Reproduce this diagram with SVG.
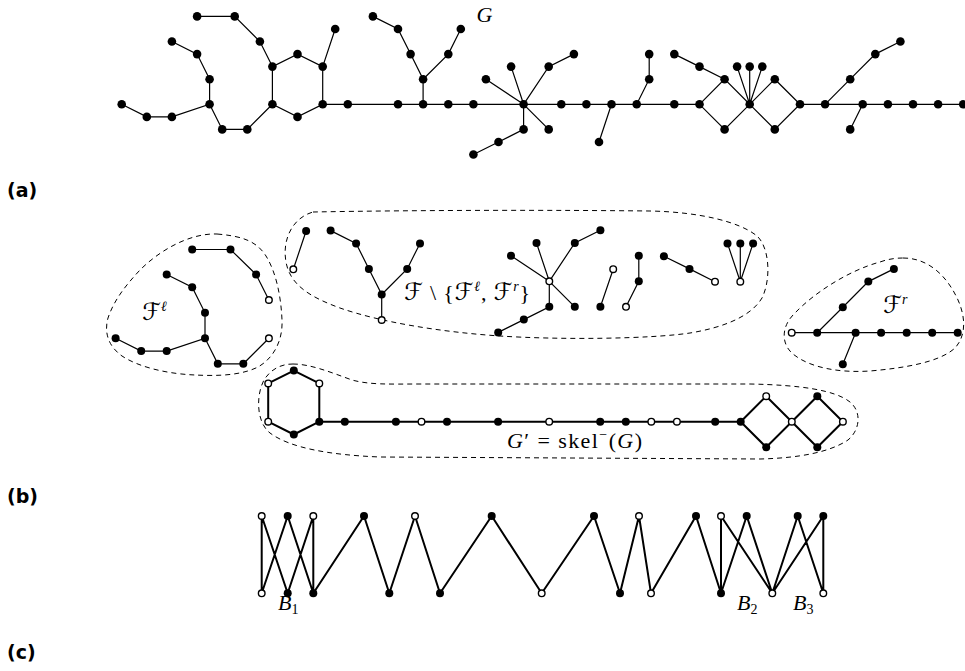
<svg xmlns="http://www.w3.org/2000/svg" width="965" height="671" viewBox="0 0 965 671">
<style>
.e{stroke:#000;stroke-width:1.2;fill:none;stroke-linecap:round}
.t{stroke:#000;stroke-width:2;fill:none;stroke-linejoin:round}
.f{fill:#000}
.o{fill:#fff;stroke:#000;stroke-width:1.4}
.d{fill:none;stroke:#000;stroke-width:1;stroke-dasharray:5 4}
.m{font-family:"Liberation Serif",serif;font-size:22px}
.c{font-family:"DejaVu Serif","DejaVu Sans",serif;font-style:normal;font-size:24px}
.lab{font-family:"DejaVu Sans",sans-serif;font-weight:bold;font-size:19px}
</style>
<rect width="965" height="671" fill="#fff"/>

<g id="connectors">
<path id="edges-a" class="e" d="M121.7,104.3 L146.8,116.9 L171.9,116.9 L209.6,104.3 L222.2,129.4 L247.3,129.4 L272.4,104.3 L297.5,116.9 L322.7,104.3 L322.7,66.6 L297.5,54.1 L272.4,66.6 L272.4,104.3
M209.6,104.3 L209.6,79.2 L197.1,54.1 L171.9,41.5
M272.4,66.6 L259.9,41.5 L234.7,16.4 L197.1,16.4
M322.7,66.6 L335.2,29
M322.7,104.3 L699.5,104.3
M699.5,104.3 L724.6,79.2 L749.7,104.3 L724.6,129.4 Z
M749.7,104.3 L774.8,79.2 L800,104.3 L774.8,129.4 Z
M800,104.3 L963.2,104.3
M423.1,104.3 L423.1,79.2 L410.6,54.1 L398,29 L372.9,16.4
M423.1,79.2 L448.3,54.1 L460.8,29
M523.6,104.3 L485.9,79.2 M523.6,104.3 L511.1,66.6 M523.6,104.3 L548.7,66.6 L573.9,54.1 M523.6,104.3 L548.7,129.4 M523.6,104.3 L523.6,129.4 L498.5,142 L473.4,154.5
M611.5,104.3 L599,142
M636.7,104.3 L649.2,79.2 L649.2,54.1
M724.6,79.2 L699.5,66.6 L674.3,54.1
M749.7,104.3 L737.1,66.6 M749.7,104.3 L749.7,66.6 M749.7,104.3 L762.3,66.6
M825.1,104.3 L850.2,79.2 L875.3,54.1 L900.4,41.5
M862.7,104.3 L850.2,129.4"/>
<path id="edges-b-forest" class="e" d="M115.6,338.3 L141.2,351.1 L166.7,351.1 L205,338.3 L205,312.8 L192.2,287.2 L166.7,274.5
M205,338.3 L217.8,363.8 L243.3,363.8 L268.9,338.3
M268.9,300 L256.1,274.5 L230.5,249.5 L192.2,249.5
M293.3,269.3 L306.1,231
M381.7,320 L381.7,294.5 L368.9,268.9 L356.1,243.4 L330.6,230.6 M381.7,294.5 L407.2,268.9 L420,243.4
M549.3,281.3 L511,255.8 M549.3,281.3 L536.5,243 M549.3,281.3 L574.8,243 L600.4,230.2 M549.3,281.3 L574.8,306.8 M549.3,281.3 L549.3,306.8 L523.8,319.6 L498.2,332.4
M613.2,269.2 L600.4,306.8
M626,306.8 L638.8,281.3 L638.8,255.7
M715,281.7 L689.5,268.9 L663.9,256.2
M740.3,281.7 L727.5,243.4 M740.3,281.7 L740.3,243.4 M740.3,281.7 L753.1,243.4
M791.7,332.7 L957.7,332.7
M817.2,332.7 L842.8,307.2 L868.3,281.6 L893.9,268.9
M855.6,332.7 L842.8,364.3"/>
<path id="edges-b-skel" class="t" d="M293.8,370.6 L319.3,383.4 L319.3,421.7 L293.8,434.5 L268.2,421.7 L268.2,383.4 Z
M319.3,421.7 L740.7,421.7
M740.7,421.7 L766.2,396.2 L791.8,421.7 L766.2,447.2 Z
M791.8,421.7 L817.3,396.2 L842.9,421.7 L817.3,447.2 Z"/>
<path id="edges-c" class="t" d="M261.7,516 L261.7,593.3 M261.7,516 L287.7,593.3 M287.7,516 L261.7,593.3 M287.7,516 L313.3,593.3 M313.3,516 L287.7,593.3 M313.3,516 L313.3,593.3
M313.3,593.3 L364,516 L389.3,593.3 L415,516 L440,593.3 L491.7,516 L541.7,593.3 L594,516 L620,593.3 L639,516 L651,593.3 L696,516 L721,593.3
M721,593.3 L721,516 M721,593.3 L746.7,516 M721,516 L772.3,593.3 M746.7,516 L772.3,593.3 M772.3,593.3 L797.7,516 M772.3,593.3 L823.3,516 M797.7,516 L823.3,593.3 M823.3,516 L823.3,593.3"/>
</g>

<g id="regions">
<path id="blob-Fl" class="d" d="M217,234 C240,236 256,240 266,256 C276,272 281,296 282,320 C283,340 274,358 258,367 C240,376 215,376 195,375 C170,374 140,368 122,356 C108,346 104,332 108,318 C114,300 126,285 140,270 C160,250 190,233 217,234 Z"/>
<path id="blob-mid" class="d" d="M313,212 C420,210 560,210 650,211 C700,212 740,222 757,236 C770,248 771,280 762,298 C750,318 720,328 690,333 C650,339 560,340 500,336 C440,332 380,322 340,308 C310,297 290,285 286,262 C282,240 292,218 313,212 Z"/>
<path id="blob-Fr" class="d" d="M903,258 C930,258 948,278 958,300 C966,318 966,336 955,348 C940,362 905,368 870,371 C840,373 810,368 793,354 C780,343 782,325 795,313 C815,292 850,270 880,262 C888,259 896,258 903,258 Z"/>
<path id="blob-skel" class="d" d="M293,364 C310,364 330,372 352,380 C370,385 390,384 420,384 L750,384 C800,385 835,390 850,402 C862,412 860,430 848,440 C830,452 800,458 760,459 L380,457 C330,455 290,448 270,433 C256,422 256,395 264,380 C271,369 281,364 293,364 Z"/>
</g>

<g id="nodes-a" class="f">
<g id="a1"><circle cx="121.7" cy="104.3" r="4.3"/></g>
<g id="a2"><circle cx="146.8" cy="116.9" r="4.3"/></g>
<g id="a3"><circle cx="171.9" cy="116.9" r="4.3"/></g>
<g id="a4"><circle cx="209.6" cy="104.3" r="4.3"/></g>
<g id="a5"><circle cx="209.6" cy="79.2" r="4.3"/></g>
<g id="a6"><circle cx="197.1" cy="54.1" r="4.3"/></g>
<g id="a7"><circle cx="171.9" cy="41.5" r="4.3"/></g>
<g id="a8"><circle cx="222.2" cy="129.4" r="4.3"/></g>
<g id="a9"><circle cx="247.3" cy="129.4" r="4.3"/></g>
<g id="a10"><circle cx="272.4" cy="104.3" r="4.3"/></g>
<g id="a11"><circle cx="297.5" cy="116.9" r="4.3"/></g>
<g id="a12"><circle cx="322.7" cy="104.3" r="4.3"/></g>
<g id="a13"><circle cx="322.7" cy="66.6" r="4.3"/></g>
<g id="a14"><circle cx="297.5" cy="54.1" r="4.3"/></g>
<g id="a15"><circle cx="272.4" cy="66.6" r="4.3"/></g>
<g id="a16"><circle cx="259.9" cy="41.5" r="4.3"/></g>
<g id="a17"><circle cx="234.7" cy="16.4" r="4.3"/></g>
<g id="a18"><circle cx="197.1" cy="16.4" r="4.3"/></g>
<g id="a19"><circle cx="335.2" cy="29" r="4.3"/></g>
<g id="a20"><circle cx="347.8" cy="104.3" r="4.3"/></g>
<g id="a21"><circle cx="398" cy="104.3" r="4.3"/></g>
<g id="a22"><circle cx="423.1" cy="104.3" r="4.3"/></g>
<g id="a23"><circle cx="448.3" cy="104.3" r="4.3"/></g>
<g id="a24"><circle cx="473.4" cy="104.3" r="4.3"/></g>
<g id="a25"><circle cx="523.6" cy="104.3" r="4.3"/></g>
<g id="a26"><circle cx="561.3" cy="104.3" r="4.3"/></g>
<g id="a27"><circle cx="586.4" cy="104.3" r="4.3"/></g>
<g id="a28"><circle cx="611.5" cy="104.3" r="4.3"/></g>
<g id="a29"><circle cx="636.7" cy="104.3" r="4.3"/></g>
<g id="a30"><circle cx="674.3" cy="104.3" r="4.3"/></g>
<g id="a31"><circle cx="699.5" cy="104.3" r="4.3"/></g>
<g id="a32"><circle cx="423.1" cy="79.2" r="4.3"/></g>
<g id="a33"><circle cx="410.6" cy="54.1" r="4.3"/></g>
<g id="a34"><circle cx="398" cy="29" r="4.3"/></g>
<g id="a35"><circle cx="372.9" cy="16.4" r="4.3"/></g>
<g id="a36"><circle cx="448.3" cy="54.1" r="4.3"/></g>
<g id="a37"><circle cx="460.8" cy="29" r="4.3"/></g>
<g id="a38"><circle cx="485.9" cy="79.2" r="4.3"/></g>
<g id="a39"><circle cx="511.1" cy="66.6" r="4.3"/></g>
<g id="a40"><circle cx="548.7" cy="66.6" r="4.3"/></g>
<g id="a41"><circle cx="573.9" cy="54.1" r="4.3"/></g>
<g id="a42"><circle cx="548.7" cy="129.4" r="4.3"/></g>
<g id="a43"><circle cx="523.6" cy="129.4" r="4.3"/></g>
<g id="a44"><circle cx="498.5" cy="142" r="4.3"/></g>
<g id="a45"><circle cx="473.4" cy="154.5" r="4.3"/></g>
<g id="a46"><circle cx="599" cy="142" r="4.3"/></g>
<g id="a47"><circle cx="649.2" cy="79.2" r="4.3"/></g>
<g id="a48"><circle cx="649.2" cy="54.1" r="4.3"/></g>
<g id="a49"><circle cx="724.6" cy="79.2" r="4.3"/></g>
<g id="a50"><circle cx="724.6" cy="129.4" r="4.3"/></g>
<g id="a51"><circle cx="749.7" cy="104.3" r="4.3"/></g>
<g id="a52"><circle cx="774.8" cy="79.2" r="4.3"/></g>
<g id="a53"><circle cx="774.8" cy="129.4" r="4.3"/></g>
<g id="a54"><circle cx="800" cy="104.3" r="4.3"/></g>
<g id="a55"><circle cx="699.5" cy="66.6" r="4.3"/></g>
<g id="a56"><circle cx="674.3" cy="54.1" r="4.3"/></g>
<g id="a57"><circle cx="737.1" cy="66.6" r="4.3"/></g>
<g id="a58"><circle cx="749.7" cy="66.6" r="4.3"/></g>
<g id="a59"><circle cx="762.3" cy="66.6" r="4.3"/></g>
<g id="a60"><circle cx="825.1" cy="104.3" r="4.3"/></g>
<g id="a61"><circle cx="862.7" cy="104.3" r="4.3"/></g>
<g id="a62"><circle cx="887.9" cy="104.3" r="4.3"/></g>
<g id="a63"><circle cx="913" cy="104.3" r="4.3"/></g>
<g id="a64"><circle cx="938.1" cy="104.3" r="4.3"/></g>
<g id="a65"><circle cx="963.2" cy="104.3" r="4.3"/></g>
<g id="a66"><circle cx="850.2" cy="79.2" r="4.3"/></g>
<g id="a67"><circle cx="875.3" cy="54.1" r="4.3"/></g>
<g id="a68"><circle cx="900.4" cy="41.5" r="4.3"/></g>
<g id="a69"><circle cx="850.2" cy="129.4" r="4.3"/></g>
</g>

<g id="nodes-b-forest">
<g id="fl1"><circle class="f" cx="115.6" cy="338.3" r="4"/></g>
<g id="fl2"><circle class="f" cx="141.2" cy="351.1" r="4"/></g>
<g id="fl3"><circle class="f" cx="166.7" cy="351.1" r="4"/></g>
<g id="fl4"><circle class="f" cx="205" cy="338.3" r="4"/></g>
<g id="fl5"><circle class="f" cx="205" cy="312.8" r="4"/></g>
<g id="fl6"><circle class="f" cx="192.2" cy="287.2" r="4"/></g>
<g id="fl7"><circle class="f" cx="166.7" cy="274.5" r="4"/></g>
<g id="fl8"><circle class="f" cx="217.8" cy="363.8" r="4"/></g>
<g id="fl9"><circle class="f" cx="243.3" cy="363.8" r="4"/></g>
<g id="fl10"><circle class="o" cx="268.9" cy="338.3" r="3.3"/></g>
<g id="fl11"><circle class="o" cx="268.9" cy="300" r="3.3"/></g>
<g id="fl12"><circle class="f" cx="256.1" cy="274.5" r="4"/></g>
<g id="fl13"><circle class="f" cx="230.5" cy="249.5" r="4"/></g>
<g id="fl14"><circle class="f" cx="192.2" cy="249.5" r="4"/></g>
<g id="fm1"><circle class="o" cx="293.3" cy="269.3" r="3.3"/></g>
<g id="fm2"><circle class="f" cx="306.1" cy="231" r="4"/></g>
<g id="fm3"><circle class="o" cx="381.7" cy="320" r="3.3"/></g>
<g id="fm4"><circle class="f" cx="381.7" cy="294.5" r="4"/></g>
<g id="fm5"><circle class="f" cx="368.9" cy="268.9" r="4"/></g>
<g id="fm6"><circle class="f" cx="356.1" cy="243.4" r="4"/></g>
<g id="fm7"><circle class="f" cx="330.6" cy="230.6" r="4"/></g>
<g id="fm8"><circle class="f" cx="407.2" cy="268.9" r="4"/></g>
<g id="fm9"><circle class="f" cx="420" cy="243.4" r="4"/></g>
<g id="fm10"><circle class="o" cx="549.3" cy="281.3" r="3.3"/></g>
<g id="fm11"><circle class="f" cx="511" cy="255.8" r="4"/></g>
<g id="fm12"><circle class="f" cx="536.5" cy="243" r="4"/></g>
<g id="fm13"><circle class="f" cx="574.8" cy="243" r="4"/></g>
<g id="fm14"><circle class="f" cx="600.4" cy="230.2" r="4"/></g>
<g id="fm15"><circle class="f" cx="574.8" cy="306.8" r="4"/></g>
<g id="fm16"><circle class="f" cx="549.3" cy="306.8" r="4"/></g>
<g id="fm17"><circle class="f" cx="523.8" cy="319.6" r="4"/></g>
<g id="fm18"><circle class="f" cx="498.2" cy="332.4" r="4"/></g>
<g id="fm19"><circle class="o" cx="613.2" cy="269.2" r="3.3"/></g>
<g id="fm20"><circle class="f" cx="600.4" cy="306.8" r="4"/></g>
<g id="fm21"><circle class="o" cx="626" cy="306.8" r="3.3"/></g>
<g id="fm22"><circle class="f" cx="638.8" cy="281.3" r="4"/></g>
<g id="fm23"><circle class="f" cx="638.8" cy="255.7" r="4"/></g>
<g id="fm24"><circle class="o" cx="715" cy="281.7" r="3.3"/></g>
<g id="fm25"><circle class="f" cx="689.5" cy="268.9" r="4"/></g>
<g id="fm26"><circle class="f" cx="663.9" cy="256.2" r="4"/></g>
<g id="fm27"><circle class="o" cx="740.3" cy="281.7" r="3.3"/></g>
<g id="fm28"><circle class="f" cx="727.5" cy="243.4" r="4"/></g>
<g id="fm29"><circle class="f" cx="740.3" cy="243.4" r="4"/></g>
<g id="fm30"><circle class="f" cx="753.1" cy="243.4" r="4"/></g>
<g id="fr1"><circle class="o" cx="791.7" cy="332.7" r="3.3"/></g>
<g id="fr2"><circle class="f" cx="817.2" cy="332.7" r="4"/></g>
<g id="fr3"><circle class="f" cx="855.6" cy="332.7" r="4"/></g>
<g id="fr4"><circle class="f" cx="881.1" cy="332.7" r="4"/></g>
<g id="fr5"><circle class="f" cx="906.7" cy="332.7" r="4"/></g>
<g id="fr6"><circle class="f" cx="932.2" cy="332.7" r="4"/></g>
<g id="fr7"><circle class="f" cx="957.7" cy="332.7" r="4"/></g>
<g id="fr8"><circle class="f" cx="842.8" cy="307.2" r="4"/></g>
<g id="fr9"><circle class="f" cx="868.3" cy="281.6" r="4"/></g>
<g id="fr10"><circle class="f" cx="893.9" cy="268.9" r="4"/></g>
<g id="fr11"><circle class="f" cx="842.8" cy="364.3" r="4"/></g>
</g>

<g id="nodes-b-skel">
<g id="s1"><circle class="f" cx="293.8" cy="370.6" r="4"/></g>
<g id="s2"><circle class="o" cx="319.3" cy="383.4" r="3.3"/></g>
<g id="s3"><circle class="f" cx="319.3" cy="421.7" r="4"/></g>
<g id="s4"><circle class="f" cx="293.8" cy="434.5" r="4"/></g>
<g id="s5"><circle class="o" cx="268.2" cy="421.7" r="3.3"/></g>
<g id="s6"><circle class="o" cx="268.2" cy="383.4" r="3.3"/></g>
<g id="s7"><circle class="f" cx="344.8" cy="421.7" r="4"/></g>
<g id="s8"><circle class="f" cx="395.9" cy="421.7" r="4"/></g>
<g id="s9"><circle class="o" cx="421.5" cy="421.7" r="3.3"/></g>
<g id="s10"><circle class="f" cx="447" cy="421.7" r="4"/></g>
<g id="s11"><circle class="f" cx="498.1" cy="421.7" r="4"/></g>
<g id="s12"><circle class="o" cx="549.2" cy="421.7" r="3.3"/></g>
<g id="s13"><circle class="f" cx="600.2" cy="421.7" r="4"/></g>
<g id="s14"><circle class="f" cx="625.8" cy="421.7" r="4"/></g>
<g id="s15"><circle class="o" cx="651.3" cy="421.7" r="3.3"/></g>
<g id="s16"><circle class="o" cx="676.9" cy="421.7" r="3.3"/></g>
<g id="s17"><circle class="f" cx="715.2" cy="421.7" r="4"/></g>
<g id="s18"><circle class="f" cx="740.7" cy="421.7" r="4"/></g>
<g id="s19"><circle class="o" cx="766.2" cy="396.2" r="3.3"/></g>
<g id="s20"><circle class="f" cx="766.2" cy="447.2" r="4"/></g>
<g id="s21"><circle class="o" cx="791.8" cy="421.7" r="3.3"/></g>
<g id="s22"><circle class="f" cx="817.3" cy="396.2" r="4"/></g>
<g id="s23"><circle class="f" cx="817.3" cy="447.2" r="4"/></g>
<g id="s24"><circle class="o" cx="842.9" cy="421.7" r="3.3"/></g>
</g>

<g id="nodes-c">
<g id="ct1"><circle class="o" cx="261.7" cy="516" r="3.3"/></g>
<g id="ct2"><circle class="f" cx="287.7" cy="516" r="4"/></g>
<g id="ct3"><circle class="o" cx="313.3" cy="516" r="3.3"/></g>
<g id="ct4"><circle class="f" cx="364" cy="516" r="4"/></g>
<g id="ct5"><circle class="o" cx="415" cy="516" r="3.3"/></g>
<g id="ct6"><circle class="f" cx="491.7" cy="516" r="4"/></g>
<g id="ct7"><circle class="f" cx="594" cy="516" r="4"/></g>
<g id="ct8"><circle class="o" cx="639" cy="516" r="3.3"/></g>
<g id="ct9"><circle class="f" cx="696" cy="516" r="4"/></g>
<g id="ct10"><circle class="o" cx="721" cy="516" r="3.3"/></g>
<g id="ct11"><circle class="f" cx="746.7" cy="516" r="4"/></g>
<g id="ct12"><circle class="f" cx="797.7" cy="516" r="4"/></g>
<g id="ct13"><circle class="f" cx="823.3" cy="516" r="4"/></g>
<g id="cb1"><circle class="o" cx="261.7" cy="593.3" r="3.3"/></g>
<g id="cb2"><circle class="f" cx="287.7" cy="593.3" r="4"/></g>
<g id="cb3"><circle class="f" cx="313.3" cy="593.3" r="4"/></g>
<g id="cb4"><circle class="f" cx="389.3" cy="593.3" r="4"/></g>
<g id="cb5"><circle class="f" cx="440" cy="593.3" r="4"/></g>
<g id="cb6"><circle class="o" cx="541.7" cy="593.3" r="3.3"/></g>
<g id="cb7"><circle class="f" cx="620" cy="593.3" r="4"/></g>
<g id="cb8"><circle class="o" cx="651" cy="593.3" r="3.3"/></g>
<g id="cb9"><circle class="f" cx="721" cy="593.3" r="4"/></g>
<g id="cb10"><circle class="o" cx="772.3" cy="593.3" r="3.3"/></g>
<g id="cb11"><circle class="o" cx="823.3" cy="593.3" r="3.3"/></g>
</g>

<g id="labels">
<text class="m" x="476.5" y="21.7" font-style="italic">G</text>
<text class="m" x="142" y="320"><tspan class="c">ℱ</tspan><tspan font-size="14" dy="-9" font-style="italic">ℓ</tspan></text>
<text class="m" x="404" y="300" textLength="126" lengthAdjust="spacing"><tspan class="c">ℱ</tspan> \ {<tspan class="c">ℱ</tspan><tspan font-size="14" dy="-9" font-style="italic">ℓ</tspan><tspan dy="9">, </tspan><tspan class="c">ℱ</tspan><tspan font-size="14" dy="-9" font-style="italic">r</tspan><tspan dy="9">}</tspan></text>
<text class="m" x="883" y="313"><tspan class="c">ℱ</tspan><tspan font-size="14" dy="-9" font-style="italic">r</tspan></text>
<text class="m" x="507" y="448" textLength="135" lengthAdjust="spacing"><tspan font-style="italic">G</tspan>′ = skel<tspan font-size="14" dy="-9">−</tspan><tspan dy="9">(</tspan><tspan font-style="italic">G</tspan>)</text>
<text class="m" x="278" y="610" font-style="italic">B<tspan font-size="14" dy="4" font-style="normal">1</tspan></text>
<text class="m" x="737" y="610" font-style="italic">B<tspan font-size="14" dy="4" font-style="normal">2</tspan></text>
<text class="m" x="793" y="610" font-style="italic">B<tspan font-size="14" dy="4" font-style="normal">3</tspan></text>
<text class="lab" x="7" y="197">(a)</text>
<text class="lab" x="7" y="503">(b)</text>
<text class="lab" x="7" y="659">(c)</text>
</g>
</svg>
